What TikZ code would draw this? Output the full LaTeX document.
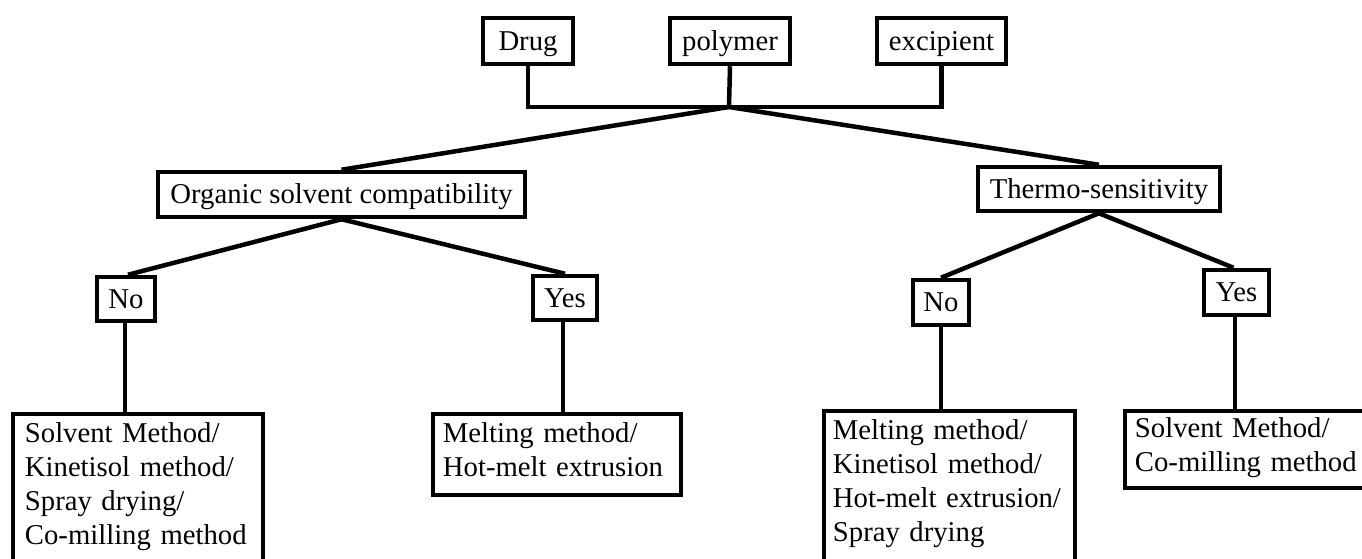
\documentclass[tikz,border=0pt]{standalone}
\usepackage{fontspec}
\setmainfont{Liberation Serif}
\usetikzlibrary{calc}
\tikzset{
  every picture/.style={x=1pt,y=-1pt},
  box/.style={draw=black, line width=4.5pt, fill=white, inner sep=0pt,
    font=\fontsize{28.7}{34}\selectfont, text height=18.7pt, text depth=0pt},
  multitext/.style={inner sep=0pt, anchor=base west, align=left, text width=300pt,
    font=\fontsize{28.7}{34}\selectfont},
  conn/.style={draw=black, line width=4.5pt}
}
\begin{document}
\begin{tikzpicture}
\useasboundingbox (0,0) rectangle (1362,559);
\clip (0,0) rectangle (1362,559);
\fill[white] (0,0) rectangle (1362,559);

% top boxes
\node[box, minimum width=90pt, minimum height=46pt] (drug) at (528,41) {Drug};
\node[box, minimum width=120pt, minimum height=46pt] (poly) at (730,41) {polymer};
\node[box, minimum width=129pt, minimum height=46pt] (excip) at (941.5,41) {excipient};
\coordinate (J) at (729,107);

% second level
\node[box, minimum width=367pt, minimum height=45pt] (org) at (341.5,194.5) {Organic solvent compatibility};
\node[box, minimum width=242pt, minimum height=44pt] (thermo) at (1099,189) {Thermo-sensitivity};

% third level
\node[box, minimum width=58pt, minimum height=44pt] (no1) at (126,299) {No};
\node[box, minimum width=64pt, minimum height=44pt] (yes1) at (565,298) {Yes};
\node[box, minimum width=56pt, minimum height=45pt] (no2) at (941,302.5) {No};
\node[box, minimum width=65pt, minimum height=45pt] (yes2) at (1236.5,292.5) {Yes};

% result boxes
\node[box, minimum width=250pt, minimum height=286pt] (res1) at (138,557) {};
\node[box, minimum width=248pt, minimum height=81pt] (res2) at (557,454.5) {};
\node[box, minimum width=251pt, minimum height=289pt] (res3) at (949.5,555.5) {};
\node[box, minimum width=325pt, minimum height=77pt] (res4) at (1287.5,449.5) {};

\node[multitext] (t1) at ($(res1.north west)+(14,31)$) {Solvent Method/\\Kinetisol method/\\Spray drying/\\Co-milling method};
\node[multitext] (t2) at ($(res2.north west)+(12,31)$) {Melting method/\\Hot-melt extrusion};
\node[multitext] (t3) at ($(res3.north west)+(11,31)$) {Melting method/\\Kinetisol method/\\Hot-melt extrusion/\\Spray drying};
\node[multitext] (t4) at ($(res4.north west)+(12,29)$) {Solvent Method/\\Co-milling method};

% drop points
\coordinate (d1) at ($(no1.south)+(-1,0)$);
\coordinate (d2) at ($(yes1.south)+(-2,0)$);
\coordinate (d3) at (no2.south);
\coordinate (d4) at ($(yes2.south)+(-1.5,0)$);

% connectors
\draw[conn] (drug.south) |- (J) -| (excip.south);
\draw[conn] (poly.south) -- (J);
\draw[conn] (J) -- (org.north);
\draw[conn] (J) -- (thermo.north);
\draw[conn] (org.south) -- ($(no1.north)+(2,0)$);
\draw[conn] (org.south) -- (yes1.north);
\draw[conn] (thermo.south) -- (no2.north);
\draw[conn] (thermo.south) -- ($(yes2.north)+(-3,0)$);
\draw[conn] (d1) -- (d1 |- res1.north);
\draw[conn] (d2) -- (d2 |- res2.north);
\draw[conn] (d3) -- (d3 |- res3.north);
\draw[conn] (d4) -- (d4 |- res4.north);
\end{tikzpicture}
\end{document}
